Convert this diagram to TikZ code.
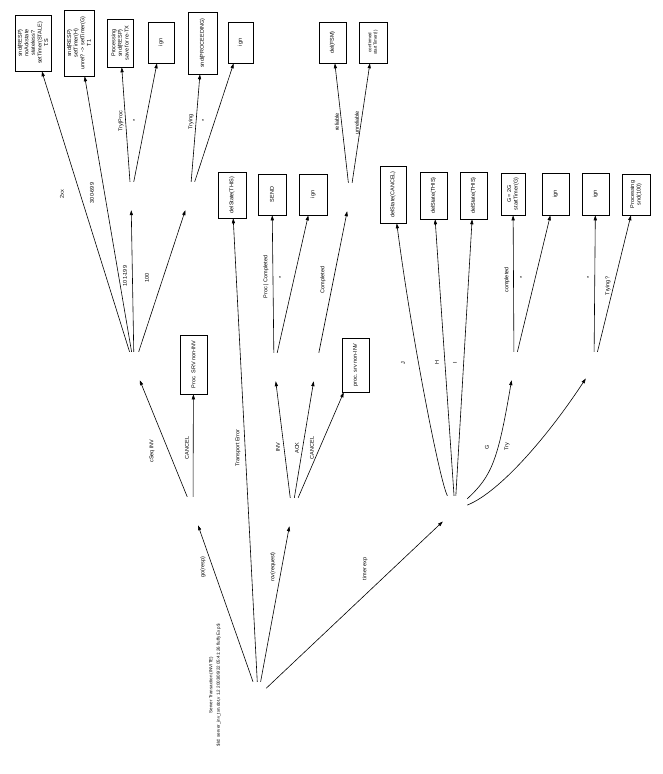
\documentclass[tikz,border=0pt]{standalone}
\usepackage{fontspec}
\setmainfont{Liberation Sans}
\usetikzlibrary{arrows.meta}
\begin{document}
\begin{tikzpicture}[x=1pt,y=-1pt,
  box/.style={draw, line width=0.6pt, rectangle, rotate=90, inner sep=0pt, align=center, font=\fontsize{5.5}{6.6}\selectfont},
  st/.style={rectangle, inner sep=0pt, minimum width=16pt, minimum height=28pt},
  lab/.style={rotate=90, inner sep=0pt, font=\fontsize{5.5}{6.6}\selectfont},
  glab/.style={rotate=90, inner sep=0pt, align=center, font=\fontsize{4.5}{7.5}\selectfont},
  ed/.style={line width=0.6pt, -{Triangle[length=5pt,width=3.2pt]}}]
\useasboundingbox (0,0) rectangle (663,774);
\fill[white] (0,0) rectangle (663,774);

% states (invisible)
\node[st] (R) at (258,696) {};
\node[st] (A) at (193,511) {};
\node[st] (B) at (292,512) {};
\node[st, minimum width=24pt] (C) at (455,510) {};
\node[st] (D) at (134,366) {};
\node[st] (E) at (131,196) {};
\node[st] (F) at (190,196) {};
\node[st] (G) at (274,367) {};
\node[st] (H) at (316,367) {};
\node[st] (I) at (350,197) {};
\node[st] (K) at (514,366) {};
\node[st] (L) at (594,366) {};

% action boxes
\node[box, minimum width=56pt, minimum height=36pt] (b1) at (33,43) {snd(RESP)\\noAckstate\\stateless?\\setTimer(STALE)\\T.S};
\node[box, minimum width=66pt, minimum height=30pt] (b2) at (79,43) {snd(RESP)\\setTimer(H)\\unrel? -> setTimer(G)\\T1};
\node[box, minimum width=48pt, minimum height=26pt] (b3) at (120,43) {Processing\\snd(RESP)\\save for re-TX};
\node[box, minimum width=41pt, minimum height=26pt] (b4) at (161,42.5) {ign};
\node[box, minimum width=62pt, minimum height=29pt] (b5) at (202.5,43) {snd(PROCEEDING)};
\node[box, minimum width=41pt, minimum height=25pt] (b6) at (240.5,42.5) {ign};
\node[box, minimum width=41pt, minimum height=27pt] (b7) at (332.5,42.5) {del(FSM)};
\node[box, minimum width=41pt, minimum height=28pt, font=\fontsize{4.5}{5.4}\selectfont] (b8) at (373,42.5) {confirmed\\startTimer(I)};
\node[box, minimum width=46pt, minimum height=28pt] (b9) at (232,195) {delState(THIS)};
\node[box, minimum width=41pt, minimum height=28pt] (b10) at (272,194.5) {SEND};
\node[box, minimum width=41pt, minimum height=28pt] (b11) at (313,194.5) {ign};
\node[box, minimum width=57pt, minimum height=26pt] (b12) at (393,194.5) {delState(CANCEL)};
\node[box, minimum width=47pt, minimum height=27pt] (b13) at (433.5,195.5) {delState(THIS)};
\node[box, minimum width=47pt, minimum height=27pt] (b14) at (473.5,195.5) {delState(THIS)};
\node[box, minimum width=42pt, minimum height=24pt] (b15) at (513,194) {G = 2G\\startTimer(G)};
\node[box, minimum width=42pt, minimum height=27pt] (b16) at (555.5,194) {ign};
\node[box, minimum width=42pt, minimum height=27pt] (b17) at (595.5,194) {ign};
\node[box, minimum width=41pt, minimum height=28pt] (b18) at (636,194.5) {Processing\\snd(100)};
\node[box, minimum width=59pt, minimum height=27pt] (b19) at (193.5,364.5) {Proc. SRV non-INV};
\node[box, minimum width=54pt, minimum height=27pt] (b20) at (355.5,365) {proc. srv non-INV};

% graph label
\node[glab] (gl) at (215,685) {Server Transaction (INVITE)\\\$Id: server\_inv\_txn.dot,v 1.2 2003/09/22 05:41:26 fluffy Exp \$};

% edges
\draw[ed] (R) -- (A);
\draw[ed] (R) -- (b9);
\draw[ed] (R) -- (B);
\draw[ed] (R) -- (C);
\draw[ed] (A) -- (D);
\draw[ed] (A) -- (b19);
\draw[ed] (D) -- (b1);
\draw[ed] (D) -- (b2);
\draw[ed] (D) -- (E);
\draw[ed] (D) -- (F);
\draw[ed] (E) -- (b3);
\draw[ed] (E) -- (b4);
\draw[ed] (F) -- (b5);
\draw[ed] (F) -- (b6);
\draw[ed] (B) -- (G);
\draw[ed] (B) -- (H);
\draw[ed] (B) -- (b20);
\draw[ed] (G) -- (b10);
\draw[ed] (G) -- (b11);
\draw[ed] (H) -- (I);
\draw[ed] (I) -- (b7);
\draw[ed] (I) -- (b8);
\draw[ed] (C) .. controls (440,482) and (412,340) .. (b12);
\draw[ed] (C) -- (b13);
\draw[ed] (C) -- (b14);
\draw[ed] (C) .. controls (492,476) and (498,460) .. (K);
\draw[ed] (C) .. controls (500,492) and (548,436) .. (L);
\draw[ed] (K) -- (b15);
\draw[ed] (K) -- (b16);
\draw[ed] (L) -- (b17);
\draw[ed] (L) -- (b18);

% edge labels
\node[lab] (l1) at (203,567) {go(resp)};
\node[lab] (l2) at (238,448) {Transport Error};
\node[lab] (l3) at (273,567) {rcv(request)};
\node[lab] (l4) at (365,569) {timer exp};
\node[lab] (l5) at (152,451) {cSeq INV};
\node[lab] (l6) at (187,448) {CANCEL};
\node[lab] (l7) at (278,447) {INV};
\node[lab] (l8) at (297,448) {ACK};
\node[lab] (l9) at (312,448) {CANCEL};
\node[lab] (l10) at (62,194) {2xx};
\node[lab] (l11) at (92,193) {300-699};
\node[lab] (l12) at (125,276) {101-199};
\node[lab] (l13) at (147,278) {100};
\node[lab] (l14) at (121,121) {Try|Proc};
\node[lab] (l15) at (135,120) {*};
\node[lab] (l16) at (191,122) {Trying};
\node[lab] (l17) at (204,120) {*};
\node[lab] (l18) at (337,122) {reliable};
\node[lab] (l19) at (357,123) {unreliable};
\node[lab] (l20) at (266,277) {Proc | Completed};
\node[lab] (l21) at (281,277) {*};
\node[lab] (l22) at (323,280) {Completed};
\node[lab] (l23) at (403,363) {J};
\node[lab] (l24) at (437,363) {H};
\node[lab] (l25) at (455,363) {I};
\node[lab] (l26) at (487,447) {G};
\node[lab] (l27) at (507,447) {Try};
\node[lab] (l28) at (507,280) {completed};
\node[lab] (l29) at (522,277) {*};
\node[lab] (l30) at (589,277) {*};
\node[lab] (l31) at (608,286) {Trying?};
\end{tikzpicture}
\end{document}
